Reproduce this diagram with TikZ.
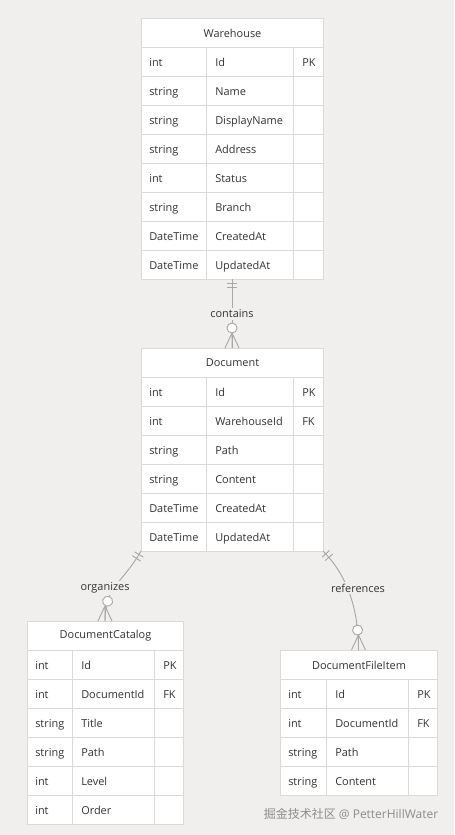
\documentclass[tikz,border=0pt]{standalone}
\usepackage{fontspec}
\setmainfont{Open Sans}
\newfontfamily\cjk{Noto Sans CJK SC}
\usetikzlibrary{decorations.markings}
\definecolor{bg}{HTML}{F0EFEE}
\definecolor{bd}{HTML}{DADADA}
\definecolor{ln}{HTML}{A8A8A8}
\definecolor{tx}{HTML}{333333}
\newcommand{\ertab}[9]{%
  \pgfmathsetmacro{\tabw}{#4+#5+#6}%
  \pgfmathsetmacro{\tabh}{29*(#8+1)}%
  \fill[white] (#2,#3) rectangle ++(\tabw,\tabh);
  \node[hdr, minimum width=\tabw*0.75pt, anchor=north west] (#1-h) at (#2,#3) {#7};
  \foreach \ty/\fn/\ky [count=\ii] in {#9} {
    \pgfmathsetmacro{\yy}{#3+29*\ii}
    \draw[cell] (#2,\yy) rectangle ++(#4,29);
    \draw[cell] (#2+#4,\yy) rectangle ++(#5,29);
    \draw[cell] (#2+#4+#5,\yy) rectangle ++(#6,29);
    \node[txt] (#1-t\ii) at (#2+8,\yy+19) {\ty};
    \node[txt] (#1-f\ii) at (#2+#4+9,\yy+19) {\fn};
    \node[txt] (#1-k\ii) at (#2+#4+#5+9,\yy+19) {\ky};
  }
  \node[tblbox, minimum width=\tabw*0.75pt, minimum height=\tabh*0.75pt, anchor=north west] (#1) at (#2,#3) {};
}
\begin{document}
\begin{tikzpicture}[x=0.75pt,y=-0.75pt,
  font=\fontsize{8.2}{9.5}\selectfont,
  cell/.style={draw=bd, line width=0.75pt},
  hdr/.style={draw=bd, fill=white, line width=0.75pt, minimum height=21.75pt, inner sep=0pt, text=tx},
  txt/.style={anchor=base west, inner sep=0pt, text=tx},
  tblbox/.style={draw=bd, line width=0.75pt, inner sep=0pt, outer sep=0pt},
  conn/.style={draw=ln, line width=0.7pt},
  lbl/.style={fill=bg, inner sep=1.5pt, text=tx},
  erstart/.style={postaction={decorate,decoration={markings,
     mark=at position 3pt with {\draw[conn] (0,-3.75pt)--(0,3.75pt);},
     mark=at position 6.5pt with {\draw[conn] (0,-3.75pt)--(0,3.75pt);}}}},
  erend/.style={postaction={decorate,decoration={markings,
     mark=at position -15pt with {\draw[conn,fill=white] (0,0) circle (3.75pt);},
     mark=at position 1 with {\draw[conn] (-11.25pt,0) -- (0,0) (-11.25pt,0) -- (0,5.25pt) (-11.25pt,0) -- (0,-5.25pt);}}}}
]
\useasboundingbox[fill=bg] (0,0) rectangle (454,835);

\ertab{wh}{141}{18}{65}{87}{30}{Warehouse}{8}{int/Id/PK, string/Name/, string/DisplayName/, string/Address/, int/Status/, string/Branch/, DateTime/CreatedAt/, DateTime/UpdatedAt/}
\ertab{doc}{141}{348}{65}{87}{30}{Document}{6}{int/Id/PK, int/WarehouseId/FK, string/Path/, string/Content/, DateTime/CreatedAt/, DateTime/UpdatedAt/}
\ertab{cat}{27}{621}{45}{82}{29}{DocumentCatalog}{6}{int/Id/PK, int/DocumentId/FK, string/Title/, string/Path/, int/Level/, int/Order/}
\ertab{fi}{280}{650}{46}{82}{29}{DocumentFileItem}{4}{int/Id/PK, int/DocumentId/FK, string/Path/, string/Content/}

\draw[conn, erstart, erend] (wh) -- (doc);
\draw[conn, erstart, erend] (doc.south west) .. controls +(-18,32) and +(0,-35) .. (cat.north);
\draw[conn, erstart, erend] (doc.south east) .. controls +(22,22) and +(0,-45) .. (fi.north);

\node[lbl] (l1) at (232,314) {contains};
\node[lbl] (l2) at (105,588) {organizes};
\node[lbl] (l3) at (358,588) {references};

\node[text=black!45, font=\fontsize{9}{10}\selectfont] (wm) at (351,814) {{\cjk 掘金技术社区} @ PetterHillWater};
\end{tikzpicture}
\end{document}
